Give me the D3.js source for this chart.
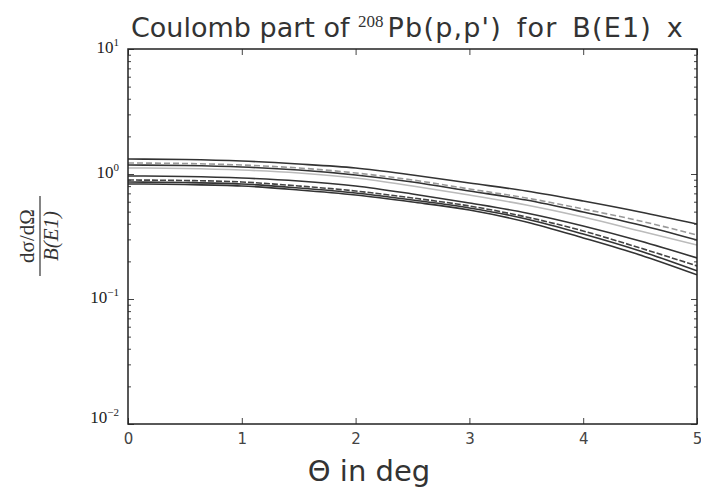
<!DOCTYPE html>
<html><head><meta charset="utf-8">
<script src="https://cdn.jsdelivr.net/npm/d3@7/dist/d3.min.js"></script>
<style>body{margin:0;background:#fff}svg{display:block}</style>
</head><body>
<script>
const theta = [0,0.5,1,1.5,2,2.5,3,3.5,4,4.5,5];
const curveA = [1.318,1.306,1.270,1.202,1.117,0.982,0.847,0.731,0.608,0.497,0.398];
const curveB = [1.225,1.213,1.180,1.117,1.019,0.895,0.759,0.643,0.525,0.421,0.325];
const curveC = [1.180,1.169,1.138,1.076,0.982,0.863,0.731,0.619,0.497,0.391,0.296];
const curveD = [1.117,1.107,1.076,1.019,0.929,0.802,0.679,0.565,0.453,0.350,0.270];
const curveE = [0.964,0.955,0.929,0.879,0.802,0.692,0.586,0.488,0.384,0.291,0.213];
const curveF = [0.895,0.887,0.863,0.802,0.731,0.643,0.555,0.453,0.350,0.256,0.184];
const curveG = [0.863,0.855,0.832,0.773,0.705,0.619,0.535,0.437,0.331,0.242,0.168];
const curveH = [0.832,0.824,0.802,0.745,0.679,0.597,0.515,0.413,0.308,0.225,0.156];
const xTicks = [0,1,2,3,4,5];
const yTicks = [10,1,0.1,0.01];
const yTickExp = ["1","0","\u22121","\u22122"];

const series = [
  {v:curveA, c:"#333", d:null},
  {v:curveB, c:"#999", d:"6,3"},
  {v:curveC, c:"#333", d:null},
  {v:curveD, c:"#bbb", d:null},
  {v:curveE, c:"#333", d:null},
  {v:curveF, c:"#444", d:"6,2"},
  {v:curveG, c:"#333", d:null},
  {v:curveH, c:"#333", d:null}
];

const W=701,H=490, L=128,R=697,T=49,B=424;
const svg=d3.select("body").append("svg").attr("width",W).attr("height",H);
const x=d3.scaleLinear().domain([0,5]).range([L,R]);
const y=d3.scaleLog().domain([0.01,10]).range([B,T]);

const line=d3.line().x((d,i)=>x(theta[i])).y(d=>y(d)).curve(d3.curveMonotoneX);
const g=svg.append("g");
g.append("clipPath").attr("id","clip").append("rect").attr("x",L).attr("y",T).attr("width",R-L).attr("height",B-T);
const cg=g.append("g").attr("clip-path","url(#clip)");
series.forEach(s=>{
  cg.append("path").attr("d",line(s.v)).attr("fill","none").attr("stroke",s.c)
    .attr("stroke-width",1.6).attr("stroke-dasharray",s.d);
});

const axB=d3.axisBottom(x).tickValues(xTicks).tickSizeInner(-6).tickSizeOuter(0).tickFormat(d3.format("d"));
const gx=svg.append("g").attr("transform",`translate(0,${B})`).call(axB);
gx.select(".domain").remove();
gx.selectAll("line").attr("stroke","#444");
gx.selectAll("text").attr("dy","1.15em").attr("font-family","DejaVu Sans").attr("font-size",15).attr("fill","#444");
const axT=d3.axisTop(x).tickValues(xTicks).tickSizeInner(-6).tickSizeOuter(0).tickFormat("");
const gt=svg.append("g").attr("transform",`translate(0,${T})`).call(axT);
gt.select(".domain").remove(); gt.selectAll("line").attr("stroke","#444");

const minors=[];
[0.01,0.1,1].forEach(b=>{for(let k=2;k<=9;k++)minors.push(b*k);});
[[L,1],[R,-1]].forEach(([px,dir])=>{
  const ax = dir===1? d3.axisRight(y):d3.axisLeft(y);
  const gm=svg.append("g").attr("transform",`translate(${px},0)`).call(ax.tickValues(minors).tickSize(3).tickFormat(""));
  gm.select(".domain").remove(); gm.selectAll("line").attr("stroke","#444");
  const gM=svg.append("g").attr("transform",`translate(${px},0)`).call((dir===1? d3.axisRight(y):d3.axisLeft(y)).tickValues(yTicks).tickSize(6).tickFormat(""));
  gM.select(".domain").remove(); gM.selectAll("line").attr("stroke","#444");
});

yTicks.forEach((v,i)=>{
  const t=svg.append("text").attr("x",L-9).attr("y",y(v)+(i===3?-1:4)).attr("text-anchor","end")
    .attr("font-family","Liberation Serif").attr("font-size",17).attr("fill","#222");
  t.append("tspan").text("10");
  t.append("tspan").attr("dy",-7).attr("font-size",11).text(yTickExp[i]);
});

svg.append("rect").attr("x",L).attr("y",T).attr("width",R-L).attr("height",B-T)
  .attr("fill","none").attr("stroke","#222").attr("stroke-width",1.5);

// title
const tt=svg.append("text").attr("y",37).attr("font-family","DejaVu Sans").attr("font-size",27).attr("fill","#333");
tt.append("tspan").attr("x",131).text("Coulomb part of ");
tt.append("tspan").attr("font-family","Liberation Serif").attr("font-size",17).attr("dy",-10).text("208");
tt.append("tspan").attr("dx",4).attr("dy",10).attr("letter-spacing",1.2).attr("word-spacing",5).text("Pb(p,p') for B(E1) x");

svg.append("text").attr("x",369).attr("y",481).attr("text-anchor","middle")
  .attr("font-family","DejaVu Sans").attr("font-size",29).attr("fill","#333").text("\u0398 in deg");

const yl=svg.append("g").attr("transform","translate(40,236) rotate(-90)");
yl.append("text").attr("x",0).attr("y",-6).attr("text-anchor","middle").attr("font-family","Liberation Serif")
  .attr("font-size",21).attr("fill","#333").text("d\u03c3/d\u03a9");
yl.append("line").attr("x1",-40).attr("x2",40).attr("y1",0).attr("y2",0).attr("stroke","#333").attr("stroke-width",1.2);
yl.append("text").attr("x",0).attr("y",18).attr("text-anchor","middle").attr("font-family","Liberation Serif")
  .attr("font-style","italic").attr("font-size",21).attr("fill","#333").text("B(E1)");
</script>
</body></html>
